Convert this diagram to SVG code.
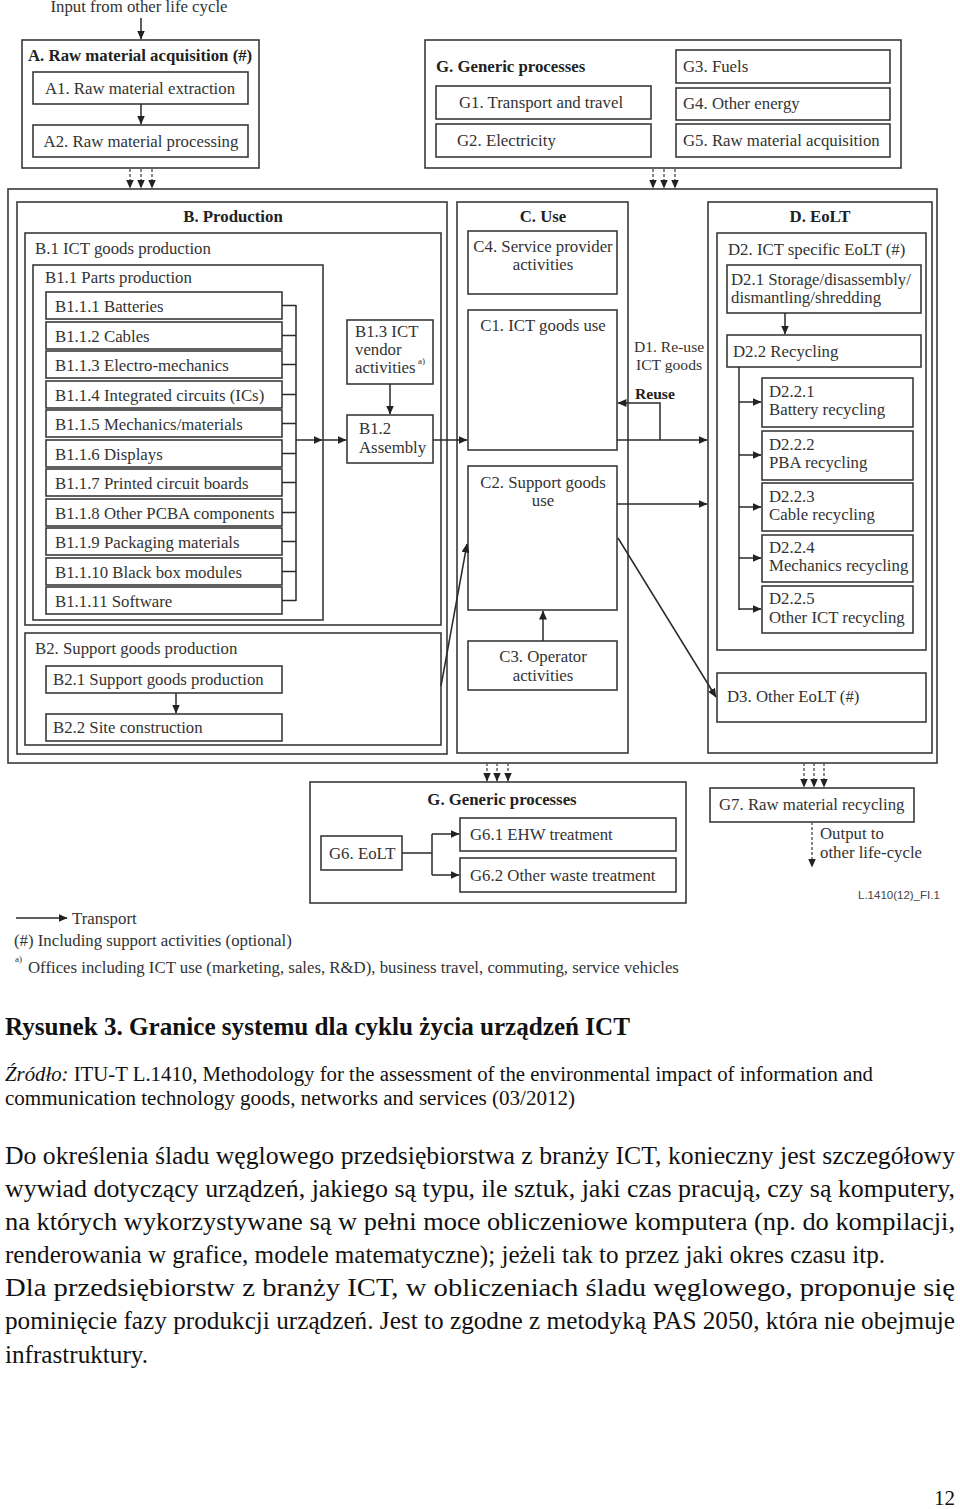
<svg xmlns="http://www.w3.org/2000/svg" width="960" height="1509" viewBox="0 0 960 1509">
<defs>
<marker id="ah" markerUnits="userSpaceOnUse" markerWidth="9" markerHeight="8" refX="8.5" refY="4" orient="auto"><path d="M0,0 L9,4 L0,8 z" fill="#222"/></marker>
<style>
.bx{fill:#fff;stroke:#3a3a3a;stroke-width:1.6}
.ln{fill:none;stroke:#2a2a2a;stroke-width:1.5}
.da{fill:none;stroke:#555;stroke-width:1.4;stroke-dasharray:3,2}
.t{font-family:"Liberation Serif",serif;font-size:16.8px;fill:#333}
.b{font-weight:bold;fill:#222}
.c{text-anchor:middle}
.sm{font-size:15.6px}
.sup{font-family:"Liberation Serif",serif;font-size:9px;fill:#333}
.p{font-family:"Liberation Serif",serif;font-size:25px;fill:#111}
.s{font-family:"Liberation Serif",serif;font-size:20px;fill:#111}
</style>
</defs>
<rect width="960" height="1509" fill="#fff"/>

<text class="t c" x="139" y="12">Input from other life cycle</text>

<g id="A">
<rect class="bx" x="22" y="40" width="237" height="128"/>
<text class="t b" x="28" y="61">A. Raw material acquisition (#)</text>
</g>
<g id="A1"><rect class="bx" x="33" y="72" width="215" height="32"/><text class="t c" x="140" y="94">A1. Raw material extraction</text></g>
<g id="A2"><rect class="bx" x="33" y="125" width="215" height="32"/><text class="t c" x="141" y="147">A2. Raw material processing</text></g>

<g id="Gtop">
<rect class="bx" x="425" y="40" width="476" height="128"/>
<text class="t b" x="436" y="72">G. Generic processes</text>
</g>
<g id="G1"><rect class="bx" x="436" y="86" width="215" height="33"/><text class="t" x="459" y="108">G1. Transport and travel</text></g>
<g id="G2"><rect class="bx" x="436" y="124" width="215" height="33"/><text class="t" x="457" y="146">G2. Electricity</text></g>
<g id="G3"><rect class="bx" x="676" y="50" width="214" height="33"/><text class="t" x="683" y="72">G3. Fuels</text></g>
<g id="G4"><rect class="bx" x="676" y="88" width="214" height="32"/><text class="t" x="683" y="109">G4. Other energy</text></g>
<g id="G5"><rect class="bx" x="676" y="124" width="214" height="33"/><text class="t" x="683" y="146">G5. Raw material acquisition</text></g>

<g id="outer"><rect class="bx" x="8" y="189" width="929" height="574"/></g>

<g id="B">
<rect class="bx" x="17" y="202" width="430" height="552"/>
<text class="t b c" x="233" y="222">B. Production</text>
</g>
<g id="B1">
<rect class="bx" x="25" y="233" width="416" height="392"/>
<text class="t" x="35" y="254">B.1 ICT goods production</text>
</g>
<g id="B11">
<rect class="bx" x="33" y="265" width="290" height="355"/>
<text class="t" x="45" y="283">B1.1 Parts production</text>
</g>
<g id="B111"><rect class="bx" x="46" y="292" width="236" height="27"/><text class="t" x="55" y="312">B1.1.1 Batteries</text></g>
<g id="B112"><rect class="bx" x="46" y="322" width="236" height="27"/><text class="t" x="55" y="342">B1.1.2 Cables</text></g>
<g id="B113"><rect class="bx" x="46" y="351" width="236" height="27"/><text class="t" x="55" y="371">B1.1.3 Electro-mechanics</text></g>
<g id="B114"><rect class="bx" x="46" y="381" width="236" height="27"/><text class="t" x="55" y="401">B1.1.4 Integrated circuits (ICs)</text></g>
<g id="B115"><rect class="bx" x="46" y="410" width="236" height="27"/><text class="t" x="55" y="430">B1.1.5 Mechanics/materials</text></g>
<g id="B116"><rect class="bx" x="46" y="440" width="236" height="27"/><text class="t" x="55" y="460">B1.1.6 Displays</text></g>
<g id="B117"><rect class="bx" x="46" y="469" width="236" height="27"/><text class="t" x="55" y="489">B1.1.7 Printed circuit boards</text></g>
<g id="B118"><rect class="bx" x="46" y="499" width="236" height="27"/><text class="t" x="55" y="519">B1.1.8 Other PCBA components</text></g>
<g id="B119"><rect class="bx" x="46" y="528" width="236" height="27"/><text class="t" x="55" y="548">B1.1.9 Packaging materials</text></g>
<g id="B1110"><rect class="bx" x="46" y="558" width="236" height="27"/><text class="t" x="55" y="578">B1.1.10 Black box modules</text></g>
<g id="B1111"><rect class="bx" x="46" y="587" width="236" height="27"/><text class="t" x="55" y="607">B1.1.11 Software</text></g>

<g id="B13"><rect class="bx" x="347" y="320" width="86" height="64"/>
<text class="t" x="355" y="337">B1.3 ICT</text><text class="t" x="355" y="355">vendor</text><text class="t" x="355" y="373">activities</text><text class="sup" x="418" y="364">a)</text></g>
<g id="B12"><rect class="bx" x="347" y="415" width="86" height="48"/>
<text class="t" x="359" y="434">B1.2</text><text class="t" x="359" y="453">Assembly</text></g>

<g id="B2">
<rect class="bx" x="25" y="633" width="416" height="112"/>
<text class="t" x="35" y="654">B2. Support goods production</text>
</g>
<g id="B21"><rect class="bx" x="46" y="666" width="236" height="27"/><text class="t" x="53" y="685">B2.1 Support goods production</text></g>
<g id="B22"><rect class="bx" x="46" y="714" width="236" height="27"/><text class="t" x="53" y="733">B2.2 Site construction</text></g>

<g id="C">
<rect class="bx" x="457" y="202" width="171" height="551"/>
<text class="t b c" x="543" y="222">C. Use</text>
</g>
<g id="C4"><rect class="bx" x="468" y="231" width="149" height="63"/><text class="t c" x="543" y="252">C4. Service provider</text><text class="t c" x="543" y="270">activities</text></g>
<g id="C1"><rect class="bx" x="468" y="310" width="149" height="140"/><text class="t c" x="543" y="331">C1. ICT goods use</text></g>
<g id="C2"><rect class="bx" x="468" y="466" width="149" height="144"/><text class="t c" x="543" y="488">C2. Support goods</text><text class="t c" x="543" y="506">use</text></g>
<g id="C3"><rect class="bx" x="468" y="641" width="149" height="49"/><text class="t c" x="543" y="662">C3. Operator</text><text class="t c" x="543" y="681">activities</text></g>

<g id="D1label">
<text class="t sm" x="634" y="352" fill="#555">D1. Re-use</text>
<text class="t sm" x="636" y="370" fill="#555">ICT goods</text>
<text class="t b sm" x="635" y="399">Reuse</text>
</g>

<g id="D">
<rect class="bx" x="708" y="202" width="224" height="551"/>
<text class="t b c" x="820" y="222">D. EoLT</text>
</g>
<g id="D2">
<rect class="bx" x="717" y="233" width="209" height="417"/>
<text class="t" x="728" y="255">D2. ICT specific EoLT  (#)</text>
</g>
<g id="D21"><rect class="bx" x="727" y="265" width="194" height="48"/><text class="t" x="731" y="285">D2.1 Storage/disassembly/</text><text class="t" x="731" y="303">dismantling/shredding</text></g>
<g id="D22"><rect class="bx" x="727" y="335" width="194" height="32"/><text class="t" x="733" y="357">D2.2 Recycling</text></g>
<g id="D221"><rect class="bx" x="762" y="378" width="151" height="49"/><text class="t" x="769" y="397">D2.2.1</text><text class="t" x="769" y="415">Battery recycling</text></g>
<g id="D222"><rect class="bx" x="762" y="431" width="151" height="49"/><text class="t" x="769" y="450">D2.2.2</text><text class="t" x="769" y="468">PBA recycling</text></g>
<g id="D223"><rect class="bx" x="762" y="483" width="151" height="48"/><text class="t" x="769" y="502">D2.2.3</text><text class="t" x="769" y="520">Cable recycling</text></g>
<g id="D224"><rect class="bx" x="762" y="535" width="151" height="47"/><text class="t" x="769" y="553">D2.2.4</text><text class="t" x="769" y="571">Mechanics recycling</text></g>
<g id="D225"><rect class="bx" x="762" y="586" width="151" height="47"/><text class="t" x="769" y="604">D2.2.5</text><text class="t" x="769" y="623">Other ICT recycling</text></g>
<g id="D3"><rect class="bx" x="717" y="673" width="209" height="49"/><text class="t" x="727" y="702">D3. Other EoLT (#)</text></g>

<g id="Gbot">
<rect class="bx" x="310" y="782" width="376" height="121"/>
<text class="t b c" x="502" y="805">G. Generic processes</text>
</g>
<g id="G6"><rect class="bx" x="321" y="836" width="81" height="34"/><text class="t" x="329" y="859">G6. EoLT</text></g>
<g id="G61"><rect class="bx" x="460" y="818" width="216" height="33"/><text class="t" x="470" y="840">G6.1 EHW treatment</text></g>
<g id="G62"><rect class="bx" x="460" y="858" width="216" height="34"/><text class="t" x="470" y="881">G6.2 Other waste treatment</text></g>
<g id="G7"><rect class="bx" x="710" y="788" width="204" height="34"/><text class="t" x="719" y="810">G7. Raw material recycling</text></g>
<g id="G7out"><text class="t" x="820" y="839">Output to</text><text class="t" x="820" y="858">other life-cycle</text></g>
<text x="858" y="899" font-family="Liberation Sans, sans-serif" font-size="11.5" fill="#444">L.1410(12)_FI.1</text>

<g id="connectors">
<line class="ln" x1="141" y1="18" x2="141" y2="39" marker-end="url(#ah)"/>
<line class="ln" x1="141" y1="104" x2="141" y2="124" marker-end="url(#ah)"/>
<line class="da" x1="130" y1="169" x2="130" y2="188" marker-end="url(#ah)"/>
<line class="da" x1="141" y1="169" x2="141" y2="188" marker-end="url(#ah)"/>
<line class="da" x1="152" y1="169" x2="152" y2="188" marker-end="url(#ah)"/>
<line class="da" x1="653" y1="169" x2="653" y2="188" marker-end="url(#ah)"/>
<line class="da" x1="664" y1="169" x2="664" y2="188" marker-end="url(#ah)"/>
<line class="da" x1="675" y1="169" x2="675" y2="188" marker-end="url(#ah)"/>
<path class="ln" d="M282,305.5H296M282,335.5H296M282,364.5H296M282,394.5H296M282,423.5H296M282,453.5H296M282,482.5H296M282,512.5H296M282,541.5H296M282,571.5H296M282,600.5H296M296,305V601"/>
<line class="ln" x1="296" y1="440" x2="322" y2="440" marker-end="url(#ah)"/>
<line class="ln" x1="323" y1="440" x2="346" y2="440" marker-end="url(#ah)"/>
<line class="ln" x1="390" y1="384" x2="390" y2="414" marker-end="url(#ah)"/>
<line class="ln" x1="433" y1="440" x2="467" y2="440" marker-end="url(#ah)"/>
<line class="ln" x1="441" y1="686" x2="467" y2="544" marker-end="url(#ah)"/>
<line class="ln" x1="176" y1="693" x2="176" y2="713" marker-end="url(#ah)"/>
<line class="ln" x1="543" y1="641" x2="543" y2="611" marker-end="url(#ah)"/>
<line class="ln" x1="617" y1="440" x2="707" y2="440" marker-end="url(#ah)"/>
<polyline class="ln" points="660,440 660,403 618,403" marker-end="url(#ah)"/>
<line class="ln" x1="617" y1="504" x2="707" y2="504" marker-end="url(#ah)"/>
<line class="ln" x1="618" y1="538" x2="716" y2="697" marker-end="url(#ah)"/>
<line class="ln" x1="785" y1="313" x2="785" y2="334" marker-end="url(#ah)"/>
<line class="ln" x1="739" y1="367" x2="739" y2="610"/>
<line class="ln" x1="739" y1="402" x2="761" y2="402" marker-end="url(#ah)"/>
<line class="ln" x1="739" y1="455" x2="761" y2="455" marker-end="url(#ah)"/>
<line class="ln" x1="739" y1="507" x2="761" y2="507" marker-end="url(#ah)"/>
<line class="ln" x1="739" y1="558" x2="761" y2="558" marker-end="url(#ah)"/>
<line class="ln" x1="739" y1="609" x2="761" y2="609" marker-end="url(#ah)"/>
<line class="da" x1="487" y1="763" x2="487" y2="781" marker-end="url(#ah)"/>
<line class="da" x1="497" y1="763" x2="497" y2="781" marker-end="url(#ah)"/>
<line class="da" x1="508" y1="763" x2="508" y2="781" marker-end="url(#ah)"/>
<line class="da" x1="804" y1="763" x2="804" y2="787" marker-end="url(#ah)"/>
<line class="da" x1="814" y1="763" x2="814" y2="787" marker-end="url(#ah)"/>
<line class="da" x1="824" y1="763" x2="824" y2="787" marker-end="url(#ah)"/>
<path class="ln" d="M402,853H432M432,834V875"/>
<line class="ln" x1="432" y1="834" x2="459" y2="834" marker-end="url(#ah)"/>
<line class="ln" x1="432" y1="875" x2="459" y2="875" marker-end="url(#ah)"/>
<line class="da" x1="812" y1="822" x2="812" y2="867" marker-end="url(#ah)"/>
<line class="ln" x1="16" y1="918" x2="67" y2="918" marker-end="url(#ah)"/>
</g>

<g id="legend">
<text class="t" x="72" y="924">Transport</text>
<text class="t" x="14" y="946">(#) Including support activities (optional)</text>
<text class="sup" x="15" y="962">a)</text>
<text class="t" x="28" y="973">Offices including ICT use (marketing, sales, R&amp;D), business travel, commuting, service vehicles</text>
</g>

<g id="caption">
<text class="p" x="5" y="1035" font-weight="bold" textLength="625" lengthAdjust="spacingAndGlyphs">Rysunek 3. Granice systemu dla cyklu życia urządzeń ICT</text>
<text class="s" x="5" y="1081" textLength="868" lengthAdjust="spacingAndGlyphs"><tspan font-style="italic">Źródło:</tspan> ITU-T L.1410, Methodology for the assessment of the environmental impact of information and</text>
<text class="s" x="5" y="1105" textLength="570" lengthAdjust="spacingAndGlyphs">communication technology goods, networks and services  (03/2012)</text>
</g>

<g id="body">
<text class="p" x="5" y="1164" textLength="950" lengthAdjust="spacingAndGlyphs">Do określenia śladu węglowego przedsiębiorstwa z branży ICT, konieczny jest szczegółowy</text>
<text class="p" x="5" y="1197" textLength="950" lengthAdjust="spacingAndGlyphs">wywiad dotyczący urządzeń, jakiego są typu, ile sztuk, jaki czas pracują, czy są komputery,</text>
<text class="p" x="5" y="1230" textLength="950" lengthAdjust="spacingAndGlyphs">na których wykorzystywane są w pełni moce obliczeniowe komputera (np. do kompilacji,</text>
<text class="p" x="5" y="1263" textLength="880" lengthAdjust="spacingAndGlyphs">renderowania w grafice, modele matematyczne); jeżeli tak to przez jaki okres czasu itp.</text>
<text class="p" x="5" y="1296" textLength="950" lengthAdjust="spacingAndGlyphs">Dla przedsiębiorstw z branży ICT, w obliczeniach śladu węglowego, proponuje się</text>
<text class="p" x="5" y="1329" textLength="950" lengthAdjust="spacingAndGlyphs">pominięcie fazy produkcji urządzeń. Jest to zgodne z metodyką PAS 2050, która nie obejmuje</text>
<text class="p" x="5" y="1363" textLength="143" lengthAdjust="spacingAndGlyphs">infrastruktury.</text>
<text class="p" x="934" y="1505" style="font-size:21px">12</text>
</g>
</svg>
